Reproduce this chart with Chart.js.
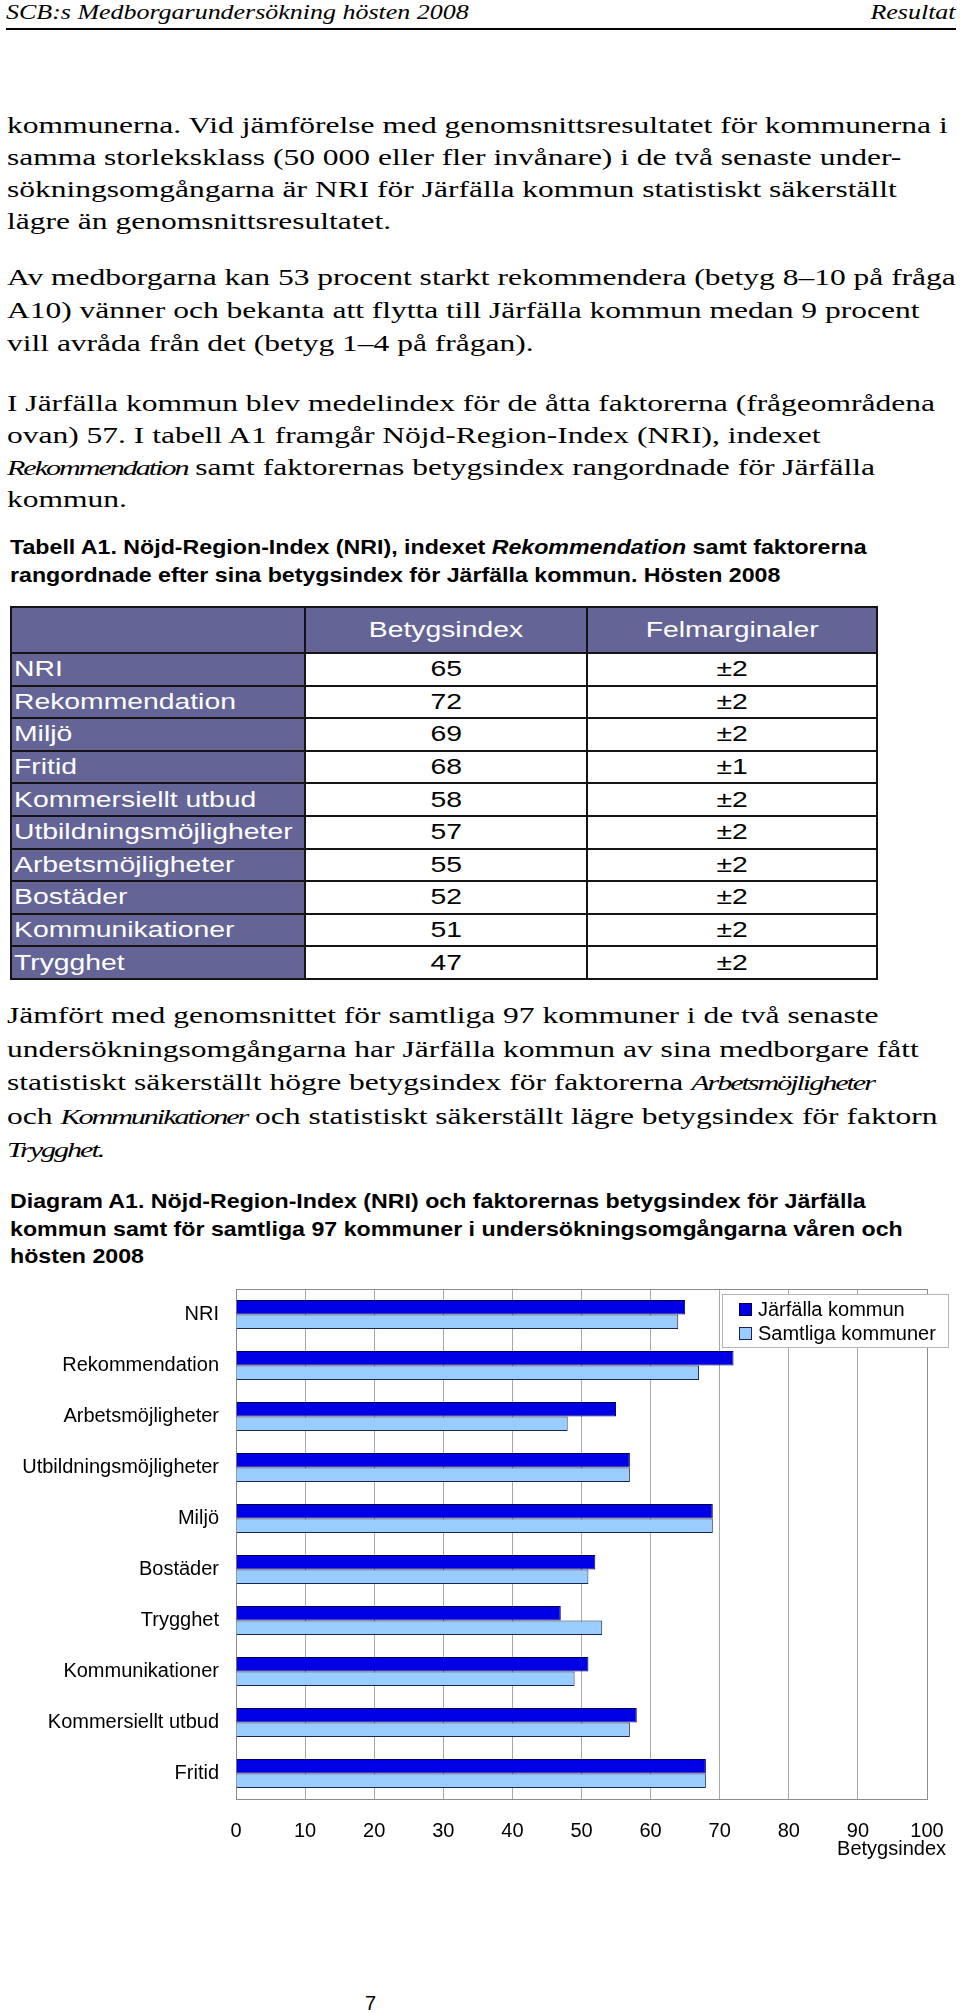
<!DOCTYPE html>
<html lang="sv">
<head>
<meta charset="utf-8">
<title>SCB:s Medborgarundersökning hösten 2008 – Järfälla kommun</title>
<script src="https://cdn.jsdelivr.net/npm/chart.js@4.4.1/dist/chart.umd.min.js"></script>
<style>
  html, body { margin: 0; padding: 0; background: #fff; }
  body { width: 960px; height: 2013px; position: relative; overflow: hidden; color: #000; }
  .ln { position: absolute; white-space: nowrap; line-height: 1; }
  .ln .t { display: inline-block; transform-origin: 0 50%; }
  .ln.right .t { transform-origin: 100% 50%; }
  .hdr { font-family: "Liberation Serif", serif; font-size: 20px; font-style: italic; }
  .serif { font-family: "Liberation Serif", serif; font-size: 23px; }
  .serif i { font-size: 22px; letter-spacing: -1.5px; }
  .cap { font-family: "Liberation Sans", Arial, sans-serif; font-size: 20.5px; font-weight: bold; }
  .num { font-family: "Liberation Sans", Arial, sans-serif; font-size: 20px; }
  #rule { position: absolute; left: 6px; top: 28px; width: 950px; height: 2px; background: #000; }

  #tabell { position: absolute; left: 10px; top: 606px; width: 866px; border-collapse: collapse; table-layout: fixed;
            font-family: "Liberation Sans", Arial, sans-serif; font-size: 22px; }
  #tabell th, #tabell td { border: 2px solid #141414; padding: 0; white-space: nowrap; overflow: visible; text-align: center; }
  #tabell th { background: #646496; color: #fff; font-weight: normal; }
  #tabell td.lab { background: #646496; color: #fff; text-align: left; padding-left: 2px; }
  #tabell .t { display: inline-block; transform-origin: 50% 50%; }
  #tabell td.lab .t { transform-origin: 0 50%; }
  #tabell thead tr { height: 46px; }
  #tabell tbody tr { height: 32.6px; }

  #diagram { position: absolute; left: 0; top: 1270px; width: 960px; height: 600px; }
</style>
</head>
<body>
<div id="rule"></div>

<table id="tabell">
  <colgroup><col style="width:294px"><col style="width:282px"><col style="width:290px"></colgroup>
  <thead><tr><th></th><th><span class="t">Betygsindex</span></th><th><span class="t">Felmarginaler</span></th></tr></thead>
  <tbody></tbody>
</table>

<div id="diagram"><canvas id="diagramA1"></canvas></div>

<script>
// Diagram A1
const kategorier = ['NRI', 'Rekommendation', 'Arbetsmöjligheter', 'Utbildningsmöjligheter', 'Miljö',
  'Bostäder', 'Trygghet', 'Kommunikationer', 'Kommersiellt utbud', 'Fritid'];
const jarfalla = [65, 72, 55, 57, 69, 52, 47, 51, 58, 68];
const samtliga = [64, 67, 48, 57, 69, 51, 53, 49, 57, 68];
const serieNamn = ['Järfälla kommun', 'Samtliga kommuner'];
const xMin = 0, xMax = 100, xSteg = 10;
const xTitel = 'Betygsindex';

// Tabell A1
const tabellFaktorer = ['NRI', 'Rekommendation', 'Miljö', 'Fritid', 'Kommersiellt utbud',
  'Utbildningsmöjligheter', 'Arbetsmöjligheter', 'Bostäder', 'Kommunikationer', 'Trygghet'];
const tabellIndex = [65, 72, 69, 68, 58, 57, 55, 52, 51, 47];
const tabellFelmarginal = [2, 2, 2, 1, 2, 2, 2, 2, 2, 2];

// textrader: klass, baslinje, x, text (högerjusterad om 'right')
const rader = [
  ['hdr', 19, 6, 'SCB:s Medborgarundersökning hösten 2008'],
  ['hdr', 19, 956, 'Resultat', 'right'],

  ['serif', 133, 7, 'kommunerna. Vid jämförelse med genomsnittsresultatet för kommunerna i'],
  ['serif', 165, 7, 'samma storleksklass (50&nbsp;000 eller fler invånare) i de två senaste under-'],
  ['serif', 197, 7, 'sökningsomgångarna är NRI för Järfälla kommun statistiskt säkerställt'],
  ['serif', 229, 7, 'lägre än genomsnittsresultatet.'],

  ['serif', 285, 7, 'Av medborgarna kan 53 procent starkt rekommendera (betyg 8–10 på fråga'],
  ['serif', 318, 7, 'A10) vänner och bekanta att flytta till Järfälla kommun medan 9 procent'],
  ['serif', 351, 7, 'vill avråda från det (betyg 1–4 på frågan).'],

  ['serif', 411, 7, 'I Järfälla kommun blev medelindex för de åtta faktorerna (frågeområdena'],
  ['serif', 443, 7, 'ovan) 57. I tabell A1 framgår Nöjd-Region-Index (NRI), indexet'],
  ['serif', 475, 7, '<i>Rekommendation</i> samt faktorernas betygsindex rangordnade för Järfälla'],
  ['serif', 507, 7, 'kommun.'],

  ['cap', 554, 10, 'Tabell A1. Nöjd-Region-Index (NRI), indexet <i>Rekommendation</i> samt faktorerna'],
  ['cap', 582, 10, 'rangordnade efter sina betygsindex för Järfälla kommun. Hösten 2008'],

  ['serif', 1023, 7, 'Jämfört med genomsnittet för samtliga 97 kommuner i de två senaste'],
  ['serif', 1057, 7, 'undersökningsomgångarna har Järfälla kommun av sina medborgare fått'],
  ['serif', 1090, 7, 'statistiskt säkerställt högre betygsindex för faktorerna <i>Arbetsmöjligheter</i>'],
  ['serif', 1124, 7, 'och <i>Kommunikationer</i> och statistiskt säkerställt lägre betygsindex för faktorn'],
  ['serif', 1157, 7, '<i>Trygghet.</i>'],

  ['cap', 1208, 10, 'Diagram A1. Nöjd-Region-Index (NRI) och faktorernas betygsindex för Järfälla'],
  ['cap', 1236, 10, 'kommun samt för samtliga 97 kommuner i undersökningsomgångarna våren och'],
  ['cap', 1263, 10, 'hösten 2008'],

  ['num', 2010, 365, '7']
];

const typsnitt = {
  hdr:   { size: 20,   k: 0.8375, ref: 0,  bredd: 462 },
  serif: { size: 23,   k: 0.8375, ref: 2,  bredd: 941 },
  cap:   { size: 20.5, k: 0.8465, ref: 13, bredd: 856 },
  num:   { size: 20,   k: 0.8465 }
};

const spans = [];
rader.forEach(([kl, bas, x, html, just]) => {
  const d = document.createElement('div');
  d.className = 'ln ' + kl + (just === 'right' ? ' right' : '');
  d.style.top = (bas - typsnitt[kl].size * typsnitt[kl].k) + 'px';
  if (just === 'right') d.style.right = (960 - x) + 'px';
  else d.style.left = x + 'px';
  d.innerHTML = '<span class="t">' + html + '</span>';
  document.body.appendChild(d);
  spans.push(d.firstChild);
});

const tbody = document.querySelector('#tabell tbody');
tabellFaktorer.forEach((namn, i) => {
  const tr = document.createElement('tr');
  tr.innerHTML = '<td class="lab"><span class="t">' + namn + '</span></td>' +
    '<td><span class="t">' + tabellIndex[i] + '</span></td>' +
    '<td><span class="t">±' + tabellFelmarginal[i] + '</span></td>';
  tbody.appendChild(tr);
});

function anpassaText() {
  Object.keys(typsnitt).forEach(kl => {
    const f = typsnitt[kl];
    if (f.ref === undefined) return;
    const s = f.bredd / spans[f.ref].offsetWidth;
    rader.forEach((r, i) => {
      if (r[0] === kl) spans[i].style.transform = 'scaleX(' + s.toFixed(4) + ')';
    });
  });
  // tabelltexten är utdragen på bredden i originalet
  const lang = tbody.rows[5].cells[0].firstChild;
  const st = 278 / lang.offsetWidth;
  document.querySelectorAll('#tabell .t').forEach(el => {
    el.style.transform = 'scaleX(' + st.toFixed(4) + ')';
  });
}
anpassaText();
if (document.fonts) document.fonts.ready.then(anpassaText);

// ram runt plotytan
const ram = {
  id: 'ram',
  beforeDatasetsDraw(chart) {
    const { ctx, chartArea: a } = chart;
    ctx.save();
    ctx.strokeStyle = '#8c8c8c';
    ctx.lineWidth = 1;
    ctx.strokeRect(Math.round(a.left) + 0.5, Math.round(a.top) + 0.5,
      Math.round(a.right - a.left), Math.round(a.bottom - a.top));
    ctx.restore();
  }
};

// förklaring inne i diagrammet, uppe till höger
const forklaring = {
  id: 'forklaring',
  afterDraw(chart) {
    const { ctx, chartArea: a } = chart;
    const x = Math.round(a.right) - 205, y = Math.round(a.top) + 5, w = 226, h = 53;
    ctx.save();
    ctx.fillStyle = '#fff';
    ctx.fillRect(x, y, w, h);
    ctx.strokeStyle = '#b4b4b4';
    ctx.lineWidth = 1;
    ctx.strokeRect(x + 0.5, y + 0.5, w, h);
    ctx.font = '20px "Liberation Sans", Arial, sans-serif';
    ctx.textBaseline = 'middle';
    ctx.textAlign = 'left';
    chart.data.datasets.forEach((ds, i) => {
      const cy = Math.round(a.top) + 20 + i * 24;
      ctx.fillStyle = ds.backgroundColor;
      ctx.fillRect(x + 17, cy - 6, 13, 13);
      ctx.strokeStyle = ds.borderColor;
      ctx.strokeRect(x + 17.5, cy - 5.5, 12, 12);
      ctx.fillStyle = '#000';
      ctx.fillText(ds.label, x + 36, cy + 1);
    });
    ctx.restore();
  }
};

// axeltitel nere till höger, lite utanför plotytan
const axelTitel = {
  id: 'axelTitel',
  afterDraw(chart) {
    const { ctx, chartArea: a } = chart;
    ctx.save();
    ctx.font = '20px "Liberation Sans", Arial, sans-serif';
    ctx.fillStyle = '#000';
    ctx.textAlign = 'right';
    ctx.textBaseline = 'middle';
    ctx.fillText(xTitel, a.right + 19, a.bottom + 50);
    ctx.restore();
  }
};

Chart.defaults.font.family = '"Liberation Sans", Arial, sans-serif';
Chart.defaults.font.size = 20;
Chart.defaults.color = '#000';

const ctx = document.getElementById('diagramA1');
if (ctx) {
  new Chart(ctx.getContext('2d'), {
    type: 'bar',
    data: {
      labels: kategorier,
      datasets: [
        {
          label: serieNamn[0],
          data: jarfalla,
          backgroundColor: '#0000e6',
          borderColor: '#00004a',
          borderWidth: 1,
          categoryPercentage: 0.57,
          barPercentage: 1
        },
        {
          label: serieNamn[1],
          data: samtliga,
          backgroundColor: '#99ccff',
          borderColor: '#1c2550',
          borderWidth: 1,
          categoryPercentage: 0.57,
          barPercentage: 1
        }
      ]
    },
    options: {
      indexAxis: 'y',
      responsive: true,
      maintainAspectRatio: false,
      animation: false,
      layout: { padding: { top: 19, right: 33, left: 0, bottom: 0 } },
      plugins: {
        legend: { display: false },
        tooltip: { enabled: false }
      },
      scales: {
        x: {
          min: xMin,
          max: xMax,
          ticks: { stepSize: xSteg, padding: 20, color: '#000' },
          grid: { color: '#a8a8a8', drawTicks: false },
          border: { color: '#8c8c8c' },
          afterFit(scale) {
            scale.height = 71;
            scale.paddingLeft = 0;
            scale.paddingRight = 0;
          }
        },
        y: {
          ticks: { padding: 17, color: '#000' },
          grid: { display: false, drawTicks: false },
          border: { color: '#8c8c8c' },
          afterFit(scale) {
            scale.width = 236;
            scale.paddingTop = 0;
            scale.paddingBottom = 0;
          }
        }
      }
    },
    plugins: [ram, forklaring, axelTitel]
  });
} else {
  console.error('Canvas med id "diagramA1" hittades inte');
}
</script>
</body>
</html>
